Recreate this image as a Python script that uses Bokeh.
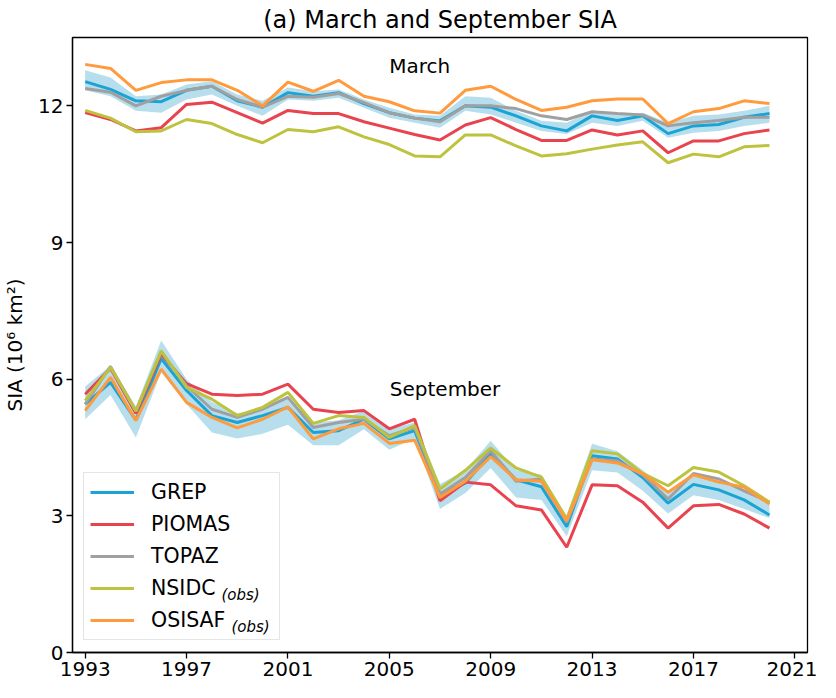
from bokeh.plotting import figure
from bokeh.models import Range1d, Legend, LegendItem, Label, FixedTicker
from bokeh.embed import file_html
from bokeh.resources import INLINE

years = list(range(1993, 2021))

# March SIA (10^6 km^2)
mar_grep = [12.53, 12.36, 12.11, 12.09, 12.34, 12.43, 12.11, 11.97, 12.29, 12.21, 12.29, 12.05, 11.85, 11.73,
            11.67, 12.00, 11.97, 11.78, 11.56, 11.45, 11.78, 11.68, 11.78, 11.39, 11.56, 11.59, 11.75, 11.83]
mar_piomas = [11.85, 11.70, 11.45, 11.52, 12.03, 12.08, 11.85, 11.62, 11.90, 11.83, 11.83, 11.65, 11.51, 11.37,
              11.25, 11.58, 11.74, 11.48, 11.24, 11.24, 11.47, 11.36, 11.45, 10.97, 11.23, 11.23, 11.39, 11.47]
mar_topaz = [12.38, 12.30, 12.00, 12.21, 12.34, 12.43, 12.14, 11.97, 12.21, 12.19, 12.27, 12.07, 11.85, 11.73,
             11.65, 12.00, 12.00, 11.94, 11.78, 11.70, 11.87, 11.83, 11.80, 11.56, 11.63, 11.68, 11.75, 11.75]
mar_nsidc = [11.90, 11.73, 11.43, 11.45, 11.70, 11.61, 11.37, 11.19, 11.48, 11.43, 11.54, 11.32, 11.15, 10.90,
             10.88, 11.36, 11.36, 11.12, 10.90, 10.95, 11.05, 11.14, 11.21, 10.75, 10.94, 10.88, 11.10, 11.13]
mar_osisaf = [12.91, 12.82, 12.34, 12.51, 12.57, 12.57, 12.34, 12.00, 12.52, 12.32, 12.56, 12.21, 12.09, 11.89,
              11.84, 12.34, 12.43, 12.14, 11.90, 11.97, 12.11, 12.15, 12.15, 11.61, 11.87, 11.94, 12.11, 12.05]
mar_lo = [12.34, 12.21, 11.89, 11.85, 12.14, 12.25, 12.00, 11.78, 12.14, 12.11, 12.18, 11.96, 11.74, 11.63,
          11.52, 11.89, 11.81, 11.63, 11.45, 11.38, 11.63, 11.56, 11.67, 11.30, 11.41, 11.45, 11.56, 11.63]
mar_hi = [12.78, 12.62, 12.21, 12.25, 12.47, 12.54, 12.25, 12.11, 12.40, 12.32, 12.36, 12.14, 11.96, 11.81,
          11.78, 12.21, 12.18, 11.89, 11.67, 11.63, 11.89, 11.81, 11.85, 11.63, 11.78, 11.81, 11.89, 12.00]

# September SIA (10^6 km^2)
sep_grep = [5.45, 5.93, 5.10, 6.45, 5.75, 5.20, 5.05, 5.20, 5.38, 4.83, 4.87, 5.12, 4.69, 4.87,
            3.48, 3.72, 4.37, 3.79, 3.64, 2.76, 4.32, 4.25, 3.84, 3.28, 3.69, 3.57, 3.35, 3.02]
sep_piomas = [5.67, 6.24, 5.25, 6.55, 5.90, 5.67, 5.64, 5.67, 5.89, 5.34, 5.27, 5.31, 4.91, 5.12,
              3.33, 3.74, 3.68, 3.22, 3.13, 2.31, 3.68, 3.66, 3.30, 2.73, 3.22, 3.25, 3.04, 2.73]
sep_topaz = [5.45, 6.28, 5.30, 6.60, 5.85, 5.34, 5.16, 5.34, 5.60, 4.94, 5.05, 5.12, 4.76, 4.94,
             3.48, 3.84, 4.43, 3.76, 3.81, 2.86, 4.25, 4.21, 3.90, 3.37, 3.93, 3.81, 3.55, 3.30]
sep_nsidc = [5.53, 6.26, 5.30, 6.62, 5.82, 5.56, 5.20, 5.38, 5.71, 5.03, 5.20, 5.16, 4.72, 4.98,
             3.59, 4.00, 4.49, 4.05, 3.85, 2.93, 4.43, 4.36, 3.93, 3.66, 4.06, 3.96, 3.66, 3.30]
sep_osisaf = [5.31, 6.04, 5.09, 6.22, 5.49, 5.16, 4.93, 5.12, 5.39, 4.69, 4.91, 5.03, 4.59, 4.66,
              3.40, 3.76, 4.30, 3.79, 3.76, 2.89, 4.23, 4.16, 3.92, 3.52, 3.90, 3.74, 3.63, 3.26]
sep_lo = [5.12, 5.65, 4.72, 6.15, 5.45, 4.83, 4.70, 4.80, 5.00, 4.55, 4.55, 4.90, 4.45, 4.70,
          3.15, 3.50, 4.05, 3.40, 3.35, 2.55, 4.00, 3.95, 3.55, 3.05, 3.45, 3.35, 3.15, 2.95]
sep_hi = [5.84, 6.30, 5.40, 6.85, 6.00, 5.50, 5.25, 5.35, 5.60, 5.05, 5.10, 5.30, 4.90, 5.05,
          3.70, 4.00, 4.65, 4.00, 3.90, 3.00, 4.58, 4.42, 4.00, 3.55, 3.90, 3.75, 3.55, 3.30]

series_names = ["GREP", "PIOMAS", "TOPAZ", "NSIDC", "OSISAF"]
obs_flags = [False, False, False, True, True]
colors = ["#1aa3d5", "#e8434f", "#a0a0a0", "#bec33f", "#ff9a3d"]
band_color = "#a9d8ea"
x_ticks = [1993, 1997, 2001, 2005, 2009, 2013, 2017, 2021]
y_ticks = [0, 3, 6, 9, 12]

FONT = "DejaVu Sans"

p = figure(frame_width=735, frame_height=615, output_backend="svg", toolbar_location=None,
           x_range=Range1d(1992.5, 2021.5), y_range=Range1d(0, 13.5),
           min_border_left=71, min_border_right=10, min_border_top=0, min_border_bottom=42)

p.title.text = "(a) March and September SIA"
p.title.align = "center"
p.title.text_font = FONT
p.title.text_font_size = "24px"
p.title.text_font_style = "normal"
p.title.text_color = "black"
p.title.standoff = 7

p.xgrid.visible = False
p.ygrid.visible = False
p.outline_line_color = "black"
p.outline_line_width = 1.3
p.outline_line_alpha = 1.0

for ax in (p.xaxis[0], p.yaxis[0]):
    ax.axis_line_color = "black"
    ax.axis_line_width = 1.3
    ax.major_tick_line_color = "black"
    ax.major_tick_line_width = 1.3
    ax.major_tick_out = 6
    ax.major_tick_in = 0
    ax.minor_tick_line_color = None
    ax.major_label_text_font = FONT
    ax.major_label_text_font_size = "20px"
    ax.major_label_text_color = "black"
    ax.major_label_standoff = 3

p.xaxis[0].ticker = FixedTicker(ticks=x_ticks)
p.yaxis[0].ticker = FixedTicker(ticks=y_ticks)
p.yaxis[0].axis_label = "SIA (10\u2076 km\u00b2)"
p.yaxis[0].axis_label_text_font = FONT
p.yaxis[0].axis_label_text_font_size = "20px"
p.yaxis[0].axis_label_text_font_style = "normal"
p.yaxis[0].axis_label_text_color = "black"
p.yaxis[0].axis_label_standoff = 8

# ensemble spread bands
p.varea(x=years, y1=mar_lo, y2=mar_hi, fill_color=band_color, fill_alpha=0.85)
p.varea(x=years, y1=sep_lo, y2=sep_hi, fill_color=band_color, fill_alpha=0.85)

mar_data = [mar_grep, mar_piomas, mar_topaz, mar_nsidc, mar_osisaf]
sep_data = [sep_grep, sep_piomas, sep_topaz, sep_nsidc, sep_osisaf]

items = []
for name, col, md, sd in zip(series_names, colors, mar_data, sep_data):
    r1 = p.line(years, md, line_color=col, line_width=3)
    p.line(years, sd, line_color=col, line_width=3)
    items.append(LegendItem(label=name, renderers=[r1]))

LEG_X, LEG_Y, LEG_PAD = 11, 12, 6
legend = Legend(items=items, location=(LEG_X, LEG_Y), orientation="vertical",
                label_text_font=FONT, label_text_font_size="20.5px", label_text_color="black",
                glyph_width=44, glyph_height=26, label_height=26, spacing=6,
                padding=LEG_PAD, margin=0, label_standoff=17, label_width=122,
                border_line_color="#cccccc", border_line_width=1,
                background_fill_color="white", background_fill_alpha=0.0)
p.add_layout(legend, "center")

# "(obs)" annotations inside the legend (screen units relative to frame bottom-left)
text_start = LEG_X + LEG_PAD + 44 + 17
obs_x = {"NSIDC": text_start + 71, "OSISAF": text_start + 81}
for i, (name, flag) in enumerate(zip(series_names, obs_flags)):
    if not flag:
        continue
    ypos = LEG_Y + LEG_PAD + (len(series_names) - 1 - i) * 32 + 13 - 5
    p.add_layout(Label(x=obs_x[name], y=ypos, x_units="screen", y_units="screen",
                       text="(obs)", text_font=FONT, text_font_size="15px",
                       text_font_style="italic", text_color="black",
                       text_baseline="middle", text_align="left", level="overlay"))

p.add_layout(Label(x=2006.2, y=12.87, text="March", text_font=FONT, text_font_size="20px",
                   text_align="center", text_baseline="middle", text_color="black"))
p.add_layout(Label(x=2007.2, y=5.79, text="September", text_font=FONT, text_font_size="20px",
                   text_align="center", text_baseline="middle", text_color="black"))

open("out.html", "w").write(file_html(p, INLINE))
